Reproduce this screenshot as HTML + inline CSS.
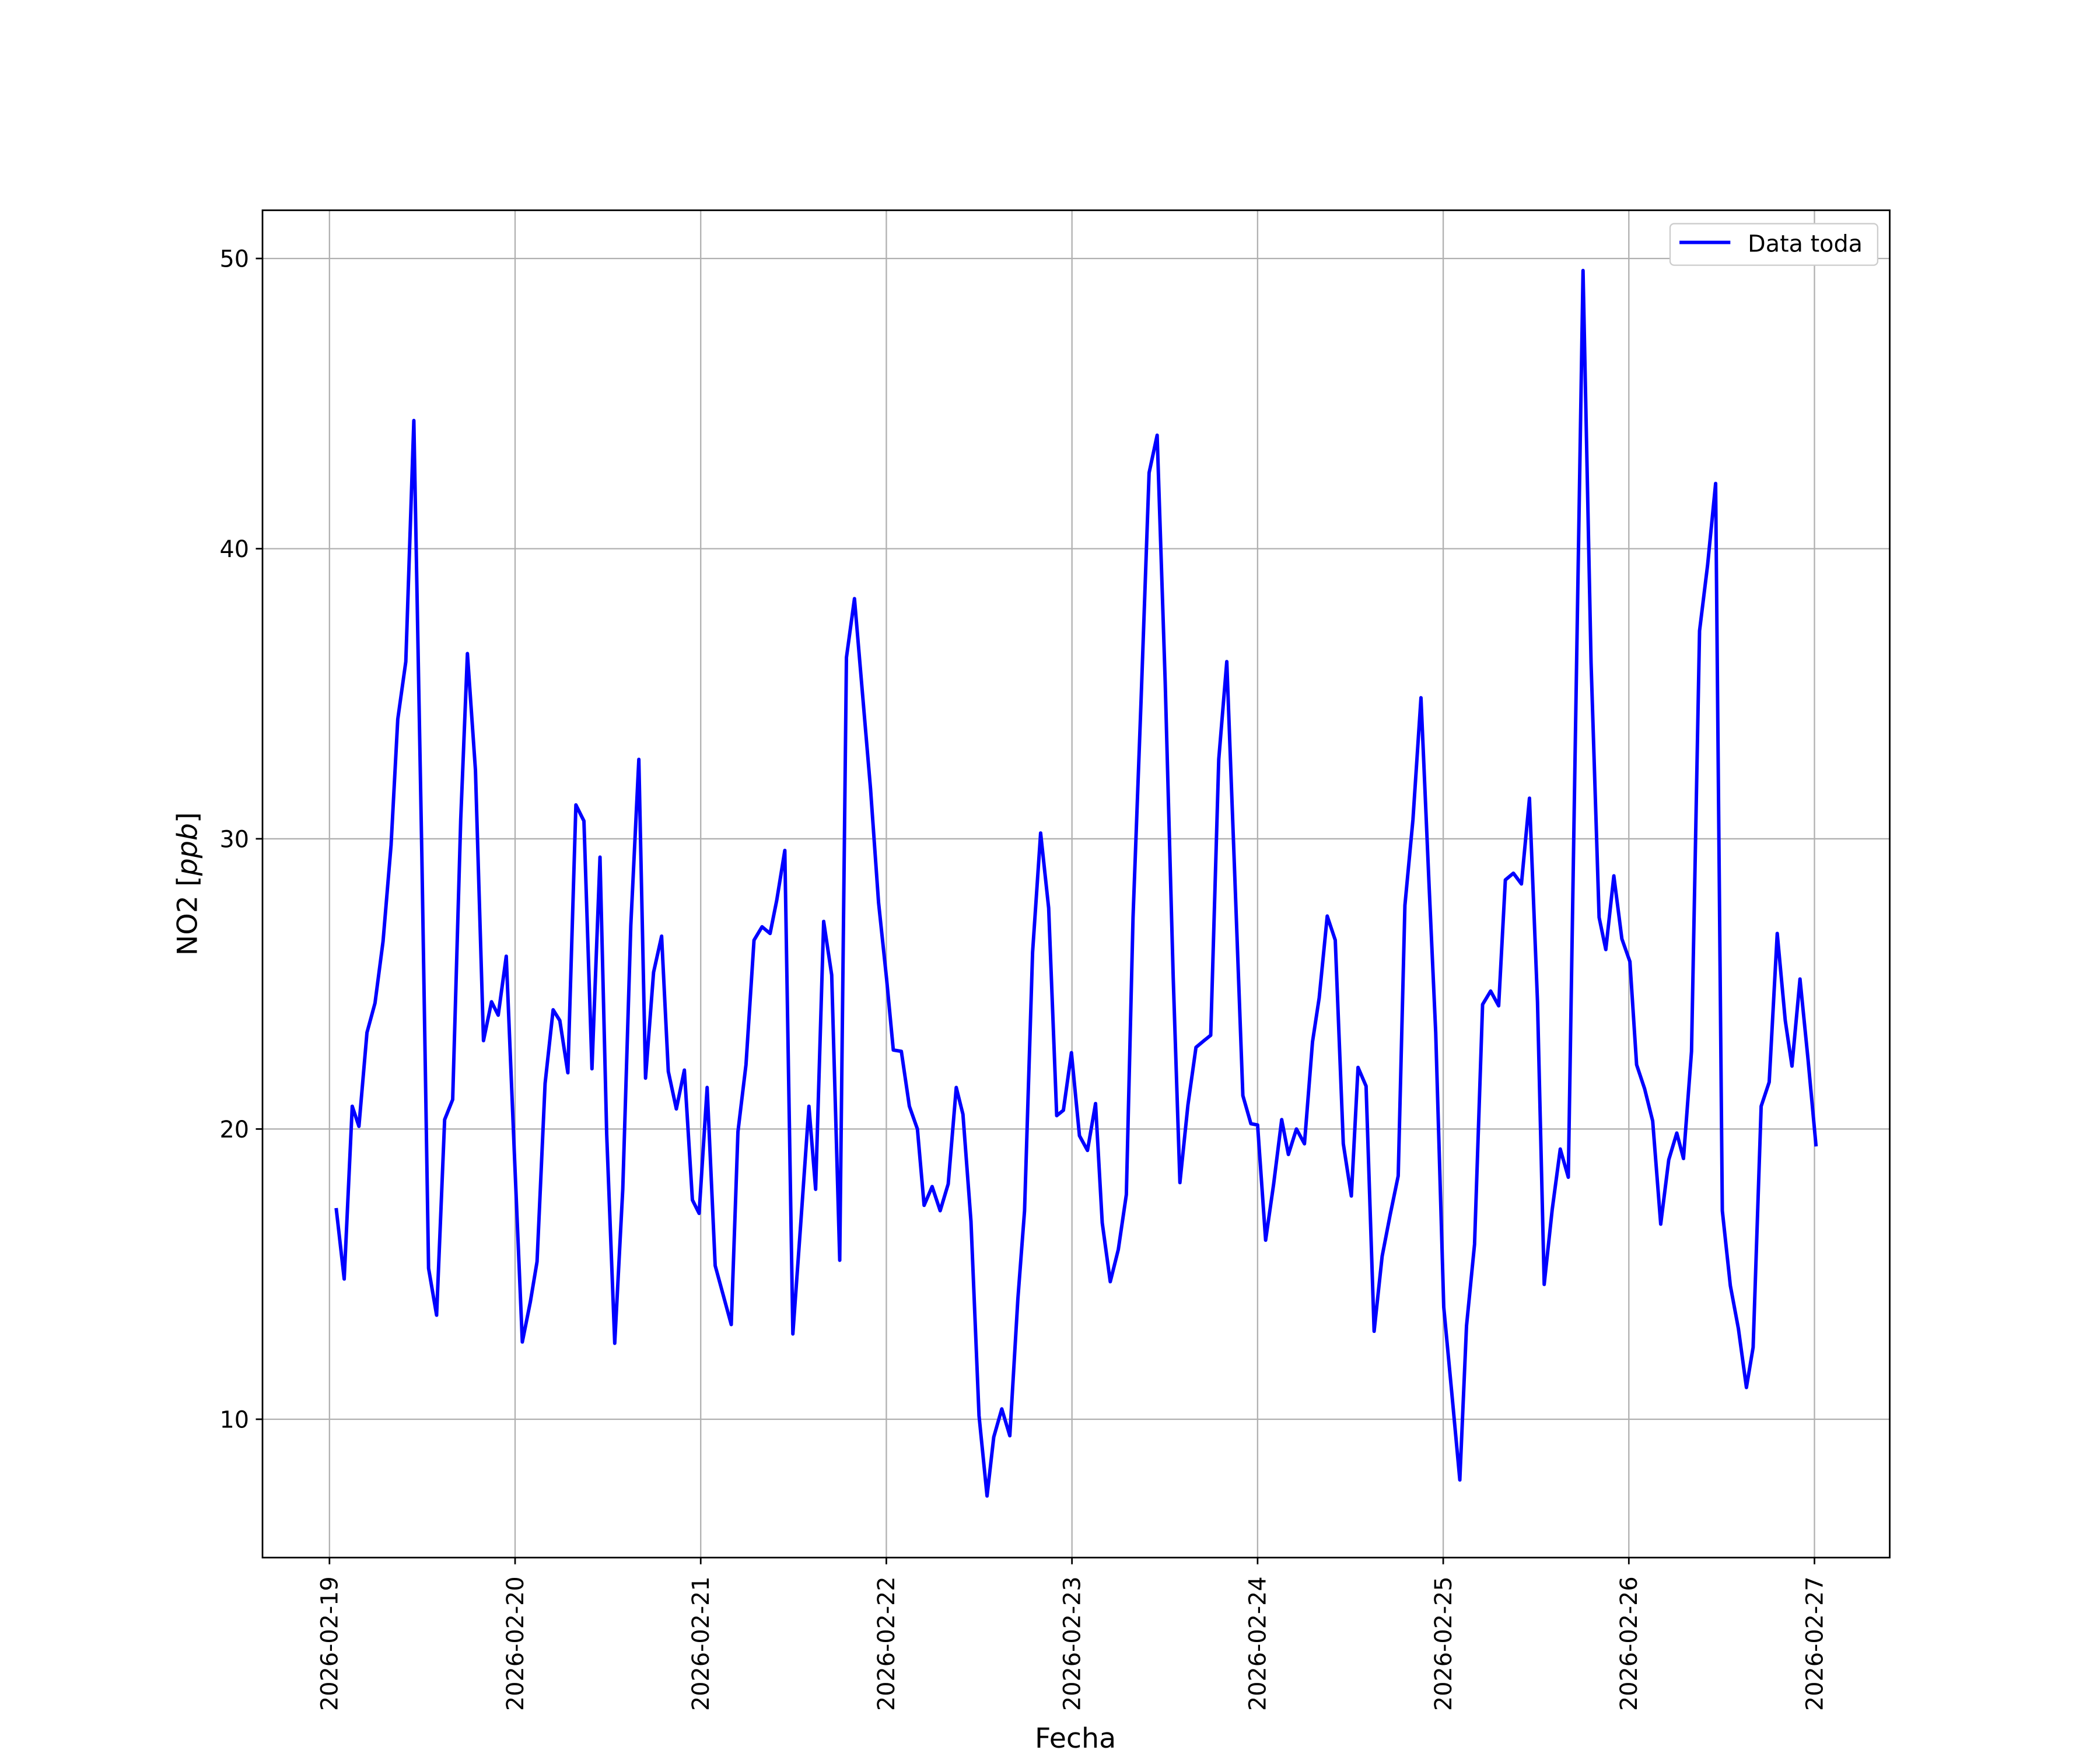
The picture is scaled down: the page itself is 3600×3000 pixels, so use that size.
<!DOCTYPE html>
<html><head><meta charset="utf-8"><style>html,body{margin:0;padding:0;background:#fff}svg{display:block}</style></head>
<body>
<svg xmlns="http://www.w3.org/2000/svg" width="3600" height="3000" viewBox="0 0 1568 1306.67" font-family="'DejaVu Sans','Liberation Sans',sans-serif">
<rect width="1568" height="1307" fill="#fff"/>
<g stroke="#b0b0b0" stroke-width="1">
<line x1="246" y1="157" x2="246" y2="1163"/><line x1="384.6" y1="157" x2="384.6" y2="1163"/><line x1="523.2" y1="157" x2="523.2" y2="1163"/><line x1="661.8" y1="157" x2="661.8" y2="1163"/><line x1="800.4" y1="157" x2="800.4" y2="1163"/><line x1="939" y1="157" x2="939" y2="1163"/><line x1="1077.6" y1="157" x2="1077.6" y2="1163"/><line x1="1216.2" y1="157" x2="1216.2" y2="1163"/><line x1="1354.8" y1="157" x2="1354.8" y2="1163"/>
<line x1="196" y1="193" x2="1411" y2="193"/><line x1="196" y1="409.7" x2="1411" y2="409.7"/><line x1="196" y1="626.3" x2="1411" y2="626.3"/><line x1="196" y1="843" x2="1411" y2="843"/><line x1="196" y1="1059.7" x2="1411" y2="1059.7"/>
</g>
<polyline fill="none" stroke="#0000ff" stroke-width="2.6" stroke-linejoin="round" points="251,902 257,955 263,826 268,841 274,771 280,749 286,703 292,631 297,537 303,494 309,314 315,640 320,947 326,982 332,836 338,821 344,612 349,488 355,575 361,777 367,748 372,758 378,714 384,860 390,1002 396,972 401,942 407,809 413,754 418,762 424,801 430,601 436,613 442,798 448,640 453,847 459,1003 465,888 471,691 477,567 482,805 488,726 494,699 499,800 505,828 511,799 517,896 522,906 528,812 534,945 540,967 546,989 551,845 557,795 563,702 569,692 575,697 580,672 586,635 592,996 598,912 604,826 609,888 615,688 621,728 627,941 632,491 638,447 644,518 650,589 656,674 662,731 667,784 673,785 679,826 685,843 690,900 696,886 702,904 708,884 714,812 719,832 725,912 731,1057 737,1117 742,1073 748,1052 754,1072 760,970 765,904 771,711 777,622 783,678 789,833 794,829 800,786 806,848 812,859 818,824 823,913 829,957 835,933 841,892 846,685 852,523 858,353 864,325 870,509 876,730 881,883 887,825 893,782 899,777 904,773 910,567 916,494 922,655 928,818 934,839 939,840 945,926 951,884 957,836 962,862 968,843 974,854 980,778 985,745 991,684 997,702 1003,854 1009,893 1014,797 1020,811 1026,994 1032,938 1038,907 1044,878 1049,676 1055,612 1061,521 1067,660 1072,771 1078,976 1084,1040 1090,1105 1095,990 1101,929 1107,750 1113,740 1119,751 1124,657 1130,652 1136,660 1142,596 1148,748 1153,959 1159,903 1165,858 1171,879 1176,568 1182,202 1188,495 1194,685 1199,709 1205,654 1211,701 1217,718 1222,795 1228,813 1234,837 1240,914 1246,866 1252,846 1257,865 1263,785 1269,471 1275,422 1281,361 1286,904 1292,960 1298,992 1304,1036 1309,1006 1315,826 1321,808 1327,697 1333,762 1338,796 1344,731 1350,791 1356,856"/>
<rect x="196" y="157" width="1215" height="1006" fill="none" stroke="#000" stroke-width="1.2"/>
<g stroke="#000" stroke-width="1.2">
<line x1="246" y1="1163" x2="246" y2="1168"/><line x1="384.6" y1="1163" x2="384.6" y2="1168"/><line x1="523.2" y1="1163" x2="523.2" y2="1168"/><line x1="661.8" y1="1163" x2="661.8" y2="1168"/><line x1="800.4" y1="1163" x2="800.4" y2="1168"/><line x1="939" y1="1163" x2="939" y2="1168"/><line x1="1077.6" y1="1163" x2="1077.6" y2="1168"/><line x1="1216.2" y1="1163" x2="1216.2" y2="1168"/><line x1="1354.8" y1="1163" x2="1354.8" y2="1168"/>
<line x1="191" y1="193" x2="196" y2="193"/><line x1="191" y1="409.7" x2="196" y2="409.7"/><line x1="191" y1="626.3" x2="196" y2="626.3"/><line x1="191" y1="843" x2="196" y2="843"/><line x1="191" y1="1059.7" x2="196" y2="1059.7"/>
</g>
<g font-size="17.3" text-anchor="end" fill="#000">
<text x="186" y="199.3">50</text><text x="186" y="416">40</text><text x="186" y="632.6">30</text><text x="186" y="849.3">20</text><text x="186" y="1066">10</text>
</g>
<g font-size="17.3" text-anchor="end" fill="#000">
<text transform="translate(252,1177) rotate(-90)">2026-02-19</text>
<text transform="translate(390.6,1177) rotate(-90)">2026-02-20</text>
<text transform="translate(529.2,1177) rotate(-90)">2026-02-21</text>
<text transform="translate(667.8,1177) rotate(-90)">2026-02-22</text>
<text transform="translate(806.4,1177) rotate(-90)">2026-02-23</text>
<text transform="translate(945,1177) rotate(-90)">2026-02-24</text>
<text transform="translate(1083.6,1177) rotate(-90)">2026-02-25</text>
<text transform="translate(1222.2,1177) rotate(-90)">2026-02-26</text>
<text transform="translate(1360.8,1177) rotate(-90)">2026-02-27</text>
</g>
<text x="803" y="1305" font-size="20.7" text-anchor="middle">Fecha</text>
<text transform="translate(147,660) rotate(-90)" font-size="20.7" text-anchor="middle">NO2 [<tspan font-style="italic">ppb</tspan>]</text>
<rect x="1247" y="167" width="155" height="31" rx="3" fill="#fff" stroke="#ccc" stroke-width="1"/>
<line x1="1254" y1="181" x2="1292" y2="181" stroke="#0000ff" stroke-width="2.6"/>
<text x="1305" y="188" font-size="17.3">Data toda</text>
</svg>
</body></html>
